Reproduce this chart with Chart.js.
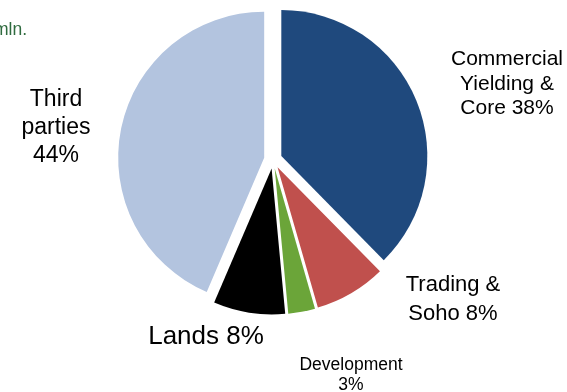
<!DOCTYPE html>
<html>
<head>
<meta charset="utf-8">
<style>
  html, body { margin: 0; padding: 0; background: #ffffff; }
  #wrap { width: 567px; height: 392px; position: relative; overflow: hidden; }
</style>
<script src="https://cdn.jsdelivr.net/npm/chart.js@4/dist/chart.umd.min.js"></script>
</head>
<body>
<div id="wrap"><canvas id="c" width="567" height="392"></canvas></div>
<script>
// Portfolio split by segment (share, %)
const categories = ["Commercial Yielding & Core", "Trading & Soho", "Development", "Lands", "Third parties"];
const values = [38, 8, 3, 8, 44];
const unitCaption = "mln.";

const colors = ["#1F497D", "#C0504D", "#6BA539", "#000000", "#B3C4DF"];

// Label placement: words per line, text centre x, first baseline y, font size, line step
const labelLayout = [
  { breaks: [1, 2, 2], x: 507, y: 65,  size: 21, step: 24.5 },
  { breaks: [2, 2],    x: 453, y: 291, size: 22, step: 29 },
  { breaks: [1, 1],    x: 351, y: 370, size: 17.5, step: 20 },
  { breaks: [2],       x: 206, y: 344, size: 26, step: 30 },
  { breaks: [1, 1, 1], x: 56,  y: 106, size: 23, step: 28 }
];

const FONT = '"Liberation Sans", Arial, Helvetica, sans-serif';
const EXPLODE = 9; // px each slice is pulled out along its bisector

// Pull every slice outward from the centre
const explodePlugin = {
  id: 'explode',
  afterDatasetsUpdate(chart) {
    const meta = chart.getDatasetMeta(0);
    meta.data.forEach(arc => {
      const mid = (arc.startAngle + arc.endAngle) / 2;
      arc.x += Math.cos(mid) * EXPLODE;
      arc.y += Math.sin(mid) * EXPLODE;
    });
  }
};

// Category labels with their percentage
const labelPlugin = {
  id: 'sliceLabels',
  afterDraw(chart) {
    const ctx = chart.ctx;
    const data = chart.data.datasets[0].data;
    ctx.save();
    ctx.fillStyle = '#000000';
    ctx.textAlign = 'center';
    ctx.textBaseline = 'alphabetic';
    chart.data.labels.forEach((name, i) => {
      const lay = labelLayout[i];
      const words = (name + ' ' + data[i] + '%').split(' ');
      const lines = [];
      let k = 0;
      lay.breaks.forEach(n => { lines.push(words.slice(k, k + n).join(' ')); k += n; });
      if (k < words.length) lines[lines.length - 1] += ' ' + words.slice(k).join(' ');
      ctx.font = lay.size + 'px ' + FONT;
      lines.forEach((ln, j) => ctx.fillText(ln, lay.x, lay.y + j * lay.step));
    });
    // unit caption in the top-left corner
    ctx.textAlign = 'left';
    ctx.fillStyle = '#2F6B3F';
    ctx.font = '17.5px ' + FONT;
    ctx.fillText(unitCaption, -6, 35);
    ctx.restore();
  }
};

new Chart(document.getElementById('c'), {
  type: 'pie',
  data: {
    labels: categories,
    datasets: [{
      data: values,
      backgroundColor: colors,
      borderWidth: 0,
      radius: 146
    }]
  },
  options: {
    responsive: false,
    animation: false,
    devicePixelRatio: 1,
    events: [],
    layout: { padding: { left: 0, right: 21, top: 0, bottom: 73 } },
    plugins: {
      legend: { display: false },
      tooltip: { enabled: false },
      title: { display: false }
    }
  },
  plugins: [explodePlugin, labelPlugin]
});
</script>
</body>
</html>
